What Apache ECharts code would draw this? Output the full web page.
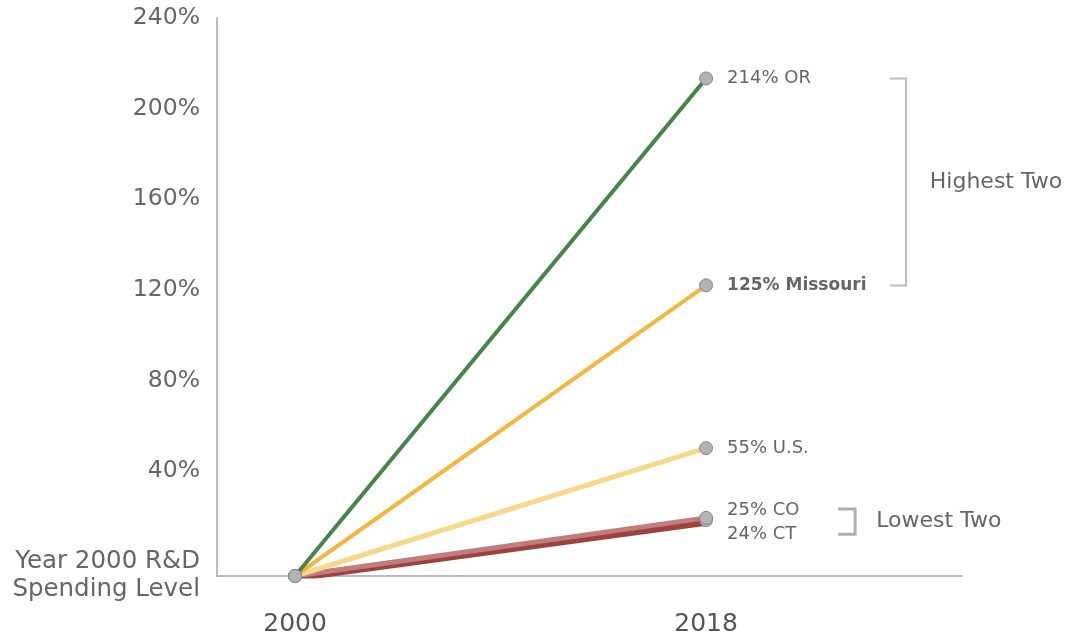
<!DOCTYPE html>
<html>
<head>
<meta charset="utf-8">
<script src="https://cdn.jsdelivr.net/npm/echarts@6/dist/echarts.min.js"></script>
<style>
  html, body { margin: 0; padding: 0; background: #fff; }
  #main { width: 1080px; height: 637px; }
</style>
</head>
<body>
<div id="main"></div>
<script>
// data
const years = [2000, 2018]
const names = ['CT', 'CO', 'U.S.', 'Missouri', 'OR']
const start = [0, 0, 0, 0, 0]
const growth2018 = [24, 25, 55, 125, 214]
const yTicks = [40, 80, 120, 160, 200, 240]
const bracketLabels = ['Highest Two', 'Lowest Two']

const colors = ['#9c433f', '#c07d7c', '#f5d98b', '#f2b73f', '#45844a']
const widths = [5, 5, 5, 4, 4]
const FONT = 'DejaVu Sans'

// bracket geometry in data units: [xTick, xLine, yTop, yBottom, xText]
const bracketData = [
  [2026.06, 2026.76, 214, 125, 2027.8],
  [2023.78, 2024.53, 28.8, 18, 2025.45],
]

let lineSeries = names.map(function (name, i) {
  let labelOffset = [0, 0]
  if (name === 'CO') labelOffset = [0, -8]
  if (name === 'CT') labelOffset = [0, 14]
  let lineStyle = { color: colors[i], width: widths[i] }
  if (name === 'CT') {
    // thicken the CT band downward so it shows under CO
    lineStyle.shadowColor = colors[i]
    lineStyle.shadowOffsetY = 3
    lineStyle.shadowBlur = 0
  }
  return {
    name: name,
    type: 'line',
    xAxisIndex: 0,
    yAxisIndex: 0,
    data: [[years[0], start[i]], [years[1], growth2018[i]]],
    symbol: 'circle',
    symbolSize: 13,
    lineStyle: lineStyle,
    itemStyle: { color: '#b3b3b3', borderColor: '#858585', borderWidth: 1, shadowBlur: 0, shadowOffsetY: 0, shadowColor: 'transparent' },
    emphasis: { disabled: true },
    label: {
      show: true,
      position: 'right',
      distance: 14,
      offset: labelOffset,
      fontFamily: FONT,
      fontSize: name === 'Missouri' ? 17 : 18,
      fontWeight: name === 'Missouri' ? 'bold' : 'normal',
      color: '#666',
      formatter: function (p) {
        if (p.dataIndex === 0) return ''
        return p.value[1] + '% ' + name
      },
    },
  }
})

let bracketSeries = {
  type: 'custom',
  xAxisIndex: 0,
  yAxisIndex: 0,
  silent: true,
  z: 5,
  data: bracketData,
  renderItem: function (params, api) {
    let i = params.dataIndex
    let a = api.coord([api.value(0), api.value(2)])
    let b = api.coord([api.value(1), api.value(2)])
    let c = api.coord([api.value(1), api.value(3)])
    let d = api.coord([api.value(0), api.value(3)])
    let t = api.coord([api.value(4), (api.value(2) + api.value(3)) / 2])
    return {
      type: 'group',
      children: [
        {
          type: 'polyline',
          shape: { points: [a, b, c, d] },
          style: { stroke: i === 0 ? '#bcbcbc' : '#b0b0b0', lineWidth: i === 0 ? 2 : 3, fill: 'none' },
        },
        {
          type: 'text',
          style: {
            text: bracketLabels[i],
            x: t[0],
            y: t[1],
            fill: '#666',
            fontFamily: FONT,
            fontSize: 22,
            align: 'left',
            verticalAlign: 'middle',
          },
        },
      ],
    }
  },
}

let option = {
  backgroundColor: '#fff',
  animation: false,
  grid: [
    { left: 217, right: 118, top: 18, bottom: 60 },
    // label-only grid for the percent ticks
    { left: 217, right: 118, top: 18, bottom: 75 },
  ],
  xAxis: [
    {
      type: 'value',
      gridIndex: 0,
      min: 1996.58,
      max: 2029.21,
      splitLine: { show: false },
      axisTick: { show: false },
      axisLine: { show: true, onZero: false, lineStyle: { color: '#bbb', width: 2 } },
      axisLabel: {
        customValues: years,
        formatter: function (v) { return String(v) },
        fontFamily: FONT,
        fontSize: 25,
        color: '#555',
        margin: 36,
      },
    },
    { type: 'value', gridIndex: 1, show: false, min: 0, max: 1 },
  ],
  yAxis: [
    {
      type: 'value',
      gridIndex: 0,
      min: 0,
      max: 240,
      splitLine: { show: false },
      axisTick: { show: false },
      axisLine: { show: true, lineStyle: { color: '#bbb', width: 2 } },
      axisLabel: {
        customValues: [0],
        formatter: function () { return 'Year 2000 R&D\nSpending Level' },
        fontFamily: FONT,
        fontSize: 24.5,
        lineHeight: 28,
        padding: [6, 0, 0, 0],
        color: '#666',
        margin: 17,
        align: 'right',
      },
    },
    {
      type: 'value',
      gridIndex: 1,
      min: 0,
      max: 240,
      splitLine: { show: false },
      axisTick: { show: false },
      axisLine: { show: false },
      axisLabel: {
        customValues: yTicks,
        formatter: function (v) { return v + '%' },
        fontFamily: FONT,
        fontSize: 23.5,
        color: '#666',
        margin: 17,
      },
    },
  ],
  series: lineSeries.concat([bracketSeries]),
}

let myChart = echarts.init(document.getElementById('main'))
myChart.setOption(option)
window.addEventListener('resize', function () {
  myChart.resize()
})
</script>
</body>
</html>
